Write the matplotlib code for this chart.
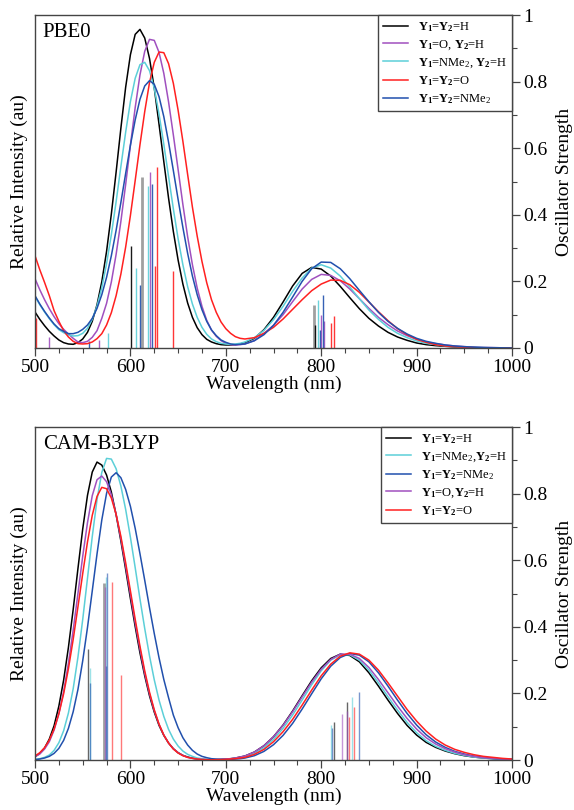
import matplotlib
matplotlib.use('Agg')
import matplotlib.pyplot as plt
from matplotlib.ticker import MultipleLocator

plt.rcParams['font.family'] = ['Liberation Serif', 'DejaVu Serif']
plt.rcParams['mathtext.fontset'] = 'custom'
plt.rcParams['mathtext.rm'] = 'Liberation Serif'
plt.rcParams['mathtext.bf'] = 'Liberation Serif:bold'
plt.rcParams['mathtext.it'] = 'Liberation Serif:italic'

# wavelength grid (nm) the curves were read on
wl = list(range(500, 721, 5)) + list(range(730, 1001, 10))

# ---- PBE0 broadened spectra ----
pbe0_hh = [.108, .086, .067, .050, .036, .024, .016, .012, .011, .016,
           .027, .047, .080, .130, .199, .290, .402, .528, .660, .783,
           .881, .942, .957, .931, .870, .781, .672, .560, .450, .350,
           .264, .192, .135, .092, .061, .040, .026, .018, .013, .010,
           .009, .009, .010, .012, .016,
           .029, .055, .092, .138, .186, .224, .242, .237, .216, .185,
           .151, .118, .089, .066, .047, .033, .023, .015, .010, .007,
           .005, .003, .002, .001, 0, 0, 0, 0]
pbe0_oh = [.208, .175, .145, .118, .094, .073, .056, .042, .029, .018,
           .016, .020, .032, .052, .089, .134, .198, .281, .380, .491,
           .609, .722, .820, .891, .927, .924, .888, .825, .739, .640,
           .536, .431, .334, .250, .180, .125, .083, .054, .035, .022,
           .014, .010, .009, .010, .012,
           .022, .044, .068, .100, .139, .177, .206, .221, .218, .202,
           .177, .148, .119, .092, .070, .051, .037, .026, .018, .013,
           .009, .006, .004, .0025, .0015, .001, .0005, 0]
pbe0_nh = [.155, .130, .108, .088, .070, .055, .046, .039, .036, .037,
           .044, .059, .086, .126, .181, .253, .340, .439, .545, .648,
           .740, .810, .851, .858, .833, .780, .703, .612, .515, .418,
           .328, .250, .184, .132, .092, .062, .041, .027, .019, .014,
           .012, .011, .012, .014, .018,
           .031, .053, .085, .125, .170, .210, .240, .250, .240, .216,
           .183, .148, .114, .086, .062, .044, .031, .021, .014, .010,
           .006, .004, .0025, .0015, .001, 0, 0, 0]
pbe0_oo = [.277, .235, .197, .157, .112, .080, .052, .033, .020, .013,
           .012, .013, .018, .028, .043, .069, .106, .157, .222, .303,
           .398, .503, .610, .710, .797, .858, .889, .887, .854, .795,
           .714, .621, .521, .423, .336, .260, .196, .145, .107, .078,
           .058, .044, .034, .029, .027,
           .031, .044, .062, .087, .116, .145, .172, .192, .204, .203,
           .190, .167, .138, .109, .082, .058, .040, .026, .017, .010,
           .006, .004, .002, .001, 0, 0, 0, 0]
pbe0_nn = [.157, .132, .110, .090, .072, .058, .050, .043, .043, .047,
           .056, .069, .089, .119, .160, .212, .277, .353, .437, .524,
           .609, .685, .747, .787, .803, .792, .755, .695, .618, .533,
           .446, .362, .284, .216, .160, .115, .080, .054, .037, .024,
           .017, .012, .010, .011, .012,
           .022, .040, .068, .107, .153, .200, .238, .258, .257, .238,
           .208, .173, .139, .107, .080, .059, .042, .029, .020, .014,
           .009, .006, .004, .0025, .0015, .001, .0005, 0]

# ---- CAM-B3LYP broadened spectra ----
cam_hh = [.010, .020, .036, .063, .103, .162, .240, .338, .452, .575,
          .694, .795, .865, .895, .886, .856, .805, .737, .658, .573,
          .485, .401, .322, .253, .193, .144, .104, .074, .051, .034,
          .022, .014, .009, .0055, .0033, .002, .001, .0005, .001, .002,
          .003, .004, .006, .009, .012,
          .024, .043, .070, .105, .147, .193, .238, .277, .305, .318,
          .314, .295, .262, .222, .180, .140, .104, .075, .053, .038,
          .027, .019, .013, .009, .006, .004, .002, .001]
cam_nh = [.002, .004, .008, .015, .029, .052, .088, .141, .214, .309,
          .422, .546, .671, .782, .864, .906, .904, .875, .823, .753,
          .669, .578, .484, .395, .313, .241, .180, .131, .092, .063,
          .042, .027, .017, .011, .006, .004, .002, .001, .001, .001,
          .002, .003, .005, .007, .010,
          .020, .037, .062, .095, .135, .180, .226, .268, .300, .316,
          .316, .300, .270, .232, .190, .150, .113, .082, .058, .041,
          .029, .020, .014, .009, .006, .004, .002, .001]
cam_nn = [.001, .003, .006, .011, .020, .035, .059, .095, .145, .212,
          .298, .398, .508, .619, .721, .801, .850, .863, .848, .813,
          .762, .696, .620, .540, .458, .380, .307, .242, .187, .135,
          .097, .067, .045, .029, .018, .011, .007, .004, .003, .002,
          .002, .002, .003, .004, .006,
          .013, .026, .046, .074, .110, .153, .199, .244, .282, .308,
          .320, .315, .295, .262, .222, .180, .140, .105, .076, .054,
          .038, .026, .018, .012, .008, .005, .003, .002]
cam_oh = [.010, .018, .033, .055, .090, .139, .206, .290, .390, .500,
          .612, .713, .794, .842, .853, .836, .797, .738, .665, .583,
          .497, .412, .333, .260, .199, .148, .107, .075, .051, .034,
          .022, .014, .008, .005, .003, .002, .001, .0005, .001, .002,
          .003, .004, .006, .009, .012,
          .024, .043, .070, .104, .145, .190, .234, .273, .302, .318,
          .318, .305, .278, .242, .202, .162, .125, .093, .067, .048,
          .034, .024, .016, .011, .007, .005, .003, .002]
cam_oo = [.012, .022, .037, .060, .093, .139, .199, .274, .362, .460,
          .560, .655, .735, .792, .819, .815, .787, .738, .672, .593,
          .508, .423, .342, .268, .204, .151, .108, .075, .051, .033,
          .021, .013, .008, .005, .003, .0015, .001, .0005, .001, .001,
          .002, .003, .004, .006, .008,
          .017, .032, .055, .085, .122, .165, .210, .253, .288, .312,
          .322, .318, .300, .270, .232, .192, .152, .117, .087, .063,
          .045, .032, .023, .016, .011, .008, .005, .003]

# ---- oscillator strengths (stick spectra): wavelength, f ----
pbe0_sticks = {
    'hh': ([600.3, 793.5], [.307, .07]),
    'oh': ([515.0, 567.4, 620.8, 800.0, 803.0], [.033, .025, .53, .098, .08]),
    'nh': ([576.0, 605.5, 618.8, 797.0], [.045, .24, .487, .145]),
    'oo': ([500.8, 626.0, 627.5, 644.5, 810.0, 813.7], [.09, .247, .545, .23, .075, .095]),
    'nn': ([557.0, 609.7, 623.0, 798.7, 802.2], [.02, .19, .492, .055, .16]),
}
pbe0_gray_wl = [612.5, 792.8]
pbe0_gray_f = [.513, .13]

cam_sticks = {
    'hh': ([555.9, 813.4, 827.4], [.332, .113, .175]),
    'nh': ([557.7, 574.4, 810.3, 832.6], [.275, .55, .105, .19]),
    'nn': ([558.0, 574.6, 575.8, 811.0, 840.0], [.23, .283, .563, .095, .205]),
    'oh': ([573.0, 821.4, 826.8], [.52, .138, .147]),
    'oo': ([580.7, 590.6, 829.5, 834.4], [.536, .255, .128, .158]),
}
cam_gray_wl = [572.3]
cam_gray_f = [.533]

labels_pbe0 = {
    'hh': r'$\mathbf{Y_1}$=$\mathbf{Y_2}$=H',
    'oh': r'$\mathbf{Y_1}$=O, $\mathbf{Y_2}$=H',
    'nh': r'$\mathbf{Y_1}$=NMe$_2$, $\mathbf{Y_2}$=H',
    'oo': r'$\mathbf{Y_1}$=$\mathbf{Y_2}$=O',
    'nn': r'$\mathbf{Y_1}$=$\mathbf{Y_2}$=NMe$_2$',
}
labels_cam = {
    'hh': r'$\mathbf{Y_1}$=$\mathbf{Y_2}$=H',
    'nh': r'$\mathbf{Y_1}$=NMe$_2$,$\mathbf{Y_2}$=H',
    'nn': r'$\mathbf{Y_1}$=$\mathbf{Y_2}$=NMe$_2$',
    'oh': r'$\mathbf{Y_1}$=O,$\mathbf{Y_2}$=H',
    'oo': r'$\mathbf{Y_1}$=$\mathbf{Y_2}$=O',
}

colors = {'hh': '#000000', 'oh': '#a050bf', 'nh': '#5ccfd8',
          'oo': '#ff2020', 'nn': '#2150ad'}


def draw_panel(ax, curves, sticks, gray_wl, gray_f, order, labels, name, stick_alpha):
    ax.vlines(gray_wl, 0, gray_f, color='#a0a0a0', lw=2.0)
    for key in order:
        x, f = sticks[key]
        ax.vlines(x, 0, f, color=colors[key], lw=1.0, alpha=stick_alpha)
    for key in order:
        ax.plot(wl, curves[key], color=colors[key], lw=1.1, label=labels[key])

    ax.set_xlim(500, 1000)
    ax.set_ylim(0, 1)
    ax.set_xticks([500, 600, 700, 800, 900, 1000])
    ax.xaxis.set_minor_locator(MultipleLocator(25))
    ax.set_yticks([0, .2, .4, .6, .8, 1])
    ax.set_yticklabels(['0', '0.2', '0.4', '0.6', '0.8', '1'])
    ax.yaxis.set_minor_locator(MultipleLocator(0.1))
    ax.yaxis.tick_right()
    ax.yaxis.set_label_position('right')
    ax.tick_params(which='both', direction='out', labelsize=14, colors='#000000')
    ax.tick_params(which='major', length=6, width=0.9, color='#444444')
    ax.tick_params(which='minor', length=3.5, width=0.8, color='#444444')
    ax.tick_params(axis='x', pad=2)
    ax.tick_params(axis='y', pad=2)
    for sp in ax.spines.values():
        sp.set_color('#444444')
        sp.set_linewidth(1.0)

    ax.set_xlabel('Wavelength (nm)', fontsize=14, labelpad=0)
    ax.set_ylabel('Oscillator Strength', fontsize=14, labelpad=6)
    ax.text(-0.033, 0.5, 'Relative Intensity (au)', transform=ax.transAxes,
            rotation=90, ha='center', va='center', fontsize=14)
    ax.text(0.016, 0.975, name, transform=ax.transAxes, ha='left', va='top',
            fontsize=15)

    leg = ax.legend(loc='upper right', fontsize=9, frameon=True, fancybox=False,
                    framealpha=1, edgecolor='#444444', borderaxespad=0,
                    handlelength=2.0, handletextpad=0.8, labelspacing=0.35,
                    borderpad=0.4)
    leg.get_frame().set_linewidth(1.0)


fig = plt.figure(figsize=(5.74, 8.10), dpi=100)
ax1 = fig.add_axes([0.061, 0.5704, 0.831, 0.411])
ax2 = fig.add_axes([0.061, 0.0617, 0.831, 0.411])

pbe0_curves = {'hh': pbe0_hh, 'oh': pbe0_oh, 'nh': pbe0_nh, 'oo': pbe0_oo, 'nn': pbe0_nn}
cam_curves = {'hh': cam_hh, 'nh': cam_nh, 'nn': cam_nn, 'oh': cam_oh, 'oo': cam_oo}

draw_panel(ax1, pbe0_curves, pbe0_sticks, pbe0_gray_wl, pbe0_gray_f,
           ['hh', 'oh', 'nh', 'oo', 'nn'], labels_pbe0, 'PBE0', 0.9)
draw_panel(ax2, cam_curves, cam_sticks, cam_gray_wl, cam_gray_f,
           ['hh', 'nh', 'nn', 'oh', 'oo'], labels_cam, 'CAM-B3LYP', 0.6)

fig.savefig('out.png', dpi=100)
